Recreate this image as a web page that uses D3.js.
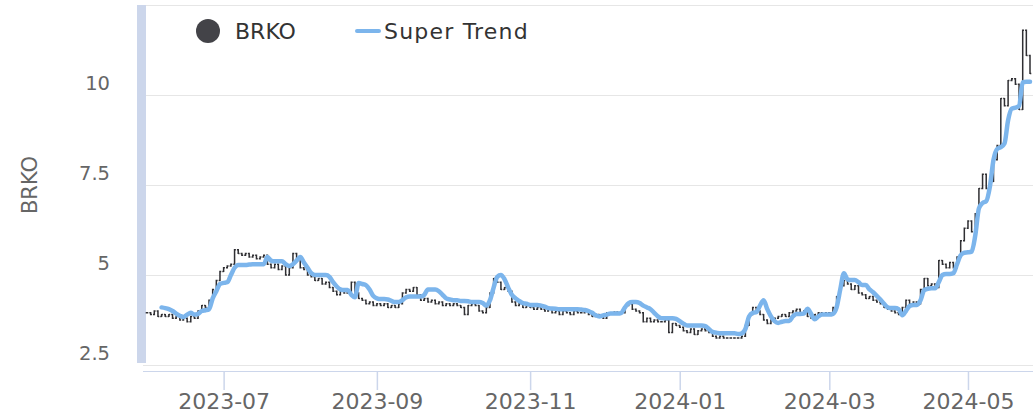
<!DOCTYPE html>
<html>
<head>
<meta charset="utf-8">
<script src="https://cdn.jsdelivr.net/npm/d3@7"></script>
<style>
  html, body { margin: 0; padding: 0; background: #fff; }
  svg { display: block; font-family: "DejaVu Sans", sans-serif; }
</style>
</head>
<body>
<svg id="chart" width="1033" height="416"></svg>
<script>
// trading months shown on the chart
const months = ["2023-06", "2023-07", "2023-08", "2023-09", "2023-10", "2023-11",
                "2023-12", "2024-01", "2024-02", "2024-03", "2024-04", "2024-05"];

// daily closing prices, one inner array per month
const closes = [
    [3.95, 3.9, 4.0, 3.85, 3.9, 3.85, 3.9, 3.8, 3.85, 3.75, 3.8, 3.7, 3.85, 3.8, 4.0, 4.15, 4.1, 4.3, 4.6, 4.85, 5.1],
    [5.2, 5.25, 5.3, 5.7, 5.6, 5.55, 5.6, 5.5, 5.55, 5.45, 5.5, 5.55, 5.3, 5.2, 5.3, 5.15, 5.25, 5.0, 5.2],
    [5.6, 5.45, 5.2, 5.15, 5.0, 4.95, 4.85, 4.9, 4.75, 4.8, 4.65, 4.55, 4.45, 4.6, 4.5, 4.55, 4.8, 4.5, 4.35, 4.3, 4.2, 4.25, 4.15],
    [4.2, 4.15, 4.2, 4.1, 4.15, 4.1, 4.2, 4.5, 4.6, 4.55, 4.65, 4.45, 4.3, 4.35, 4.25, 4.3, 4.2, 4.25, 4.15, 4.2],
    [4.15, 4.2, 4.15, 4.1, 3.9, 4.15, 4.2, 4.15, 4.0, 3.95, 4.1, 4.5, 4.9, 4.8, 4.6, 4.65, 4.55, 4.25, 4.15, 4.2, 4.1, 4.15],
    [4.1, 4.05, 4.1, 4.05, 4.0, 4.05, 3.95, 4.0, 3.9, 4.0, 3.95, 3.9, 4.0, 3.95, 3.95, 4.0, 3.9, 3.85, 3.9, 3.85, 3.8],
    [3.95, 3.95, 3.97, 3.95, 3.95, 4.15, 4.2, 4.05, 4.0, 3.95, 3.7, 3.8, 3.7, 3.75, 3.7, 3.7, 3.75, 3.4, 3.65, 3.6],
    [3.55, 3.45, 3.4, 3.5, 3.35, 3.45, 3.5, 3.45, 3.4, 3.3, 3.25, 3.3, 3.25, 3.25, 3.25, 3.25, 3.25, 3.3, 3.6, 3.9, 4.1],
    [4.0, 3.9, 3.75, 3.65, 3.75, 3.8, 3.85, 3.9, 3.85, 3.95, 4.0, 4.05, 3.95, 4.0, 3.85, 3.8, 3.9, 3.95, 3.9, 3.95],
    [3.95, 4.1, 4.4, 4.7, 4.85, 4.75, 4.6, 4.7, 4.5, 4.45, 4.35, 4.4, 4.3, 4.25, 4.2, 4.1, 4.05, 4.0, 3.95],
    [3.9, 4.1, 4.3, 4.2, 4.25, 4.2, 4.6, 4.9, 4.7, 4.75, 4.65, 5.4, 5.3, 5.2, 5.35, 5.2, 5.5, 5.95, 6.3],
    [6.5, 6.2, 6.7, 7.4, 7.8, 7.4, 7.6, 8.2, 8.6, 9.9, 9.7, 10.4, 10.45, 10.3, 9.6, 11.8, 11.1, 10.6]
];

// super trend indicator, same shape as closes
const superTrend = [
    [null, null, null, null, 4.1, 4.08, 4.05, 4.0, 3.93, 3.87, 3.83, 3.9, 3.95, 3.9, 3.92, 4.0, 4.02, 4.05, 4.35, 4.55, 4.75],
    [4.78, 4.8, 5.0, 5.2, 5.28, 5.28, 5.28, 5.29, 5.3, 5.3, 5.3, 5.3, 5.5, 5.4, 5.38, 5.38, 5.38, 5.3, 5.25],
    [5.3, 5.4, 5.5, 5.35, 5.2, 5.05, 5.0, 5.0, 5.0, 5.0, 4.95, 4.8, 4.68, 4.6, 4.58, 4.58, 4.45, 4.38, 4.78, 4.75, 4.72, 4.6, 4.42],
    [4.35, 4.33, 4.33, 4.32, 4.28, 4.25, 4.25, 4.3, 4.38, 4.4, 4.4, 4.4, 4.4, 4.45, 4.6, 4.6, 4.6, 4.55, 4.45, 4.35],
    [4.32, 4.3, 4.3, 4.28, 4.28, 4.27, 4.25, 4.25, 4.25, 4.22, 4.15, 4.3, 4.65, 4.95, 5.0, 4.88, 4.65, 4.45, 4.35, 4.28, 4.22, 4.2],
    [4.17, 4.17, 4.17, 4.15, 4.12, 4.08, 4.07, 4.06, 4.05, 4.05, 4.05, 4.05, 4.05, 4.05, 4.04, 4.03, 4.0, 3.95, 3.88, 3.85, 3.88],
    [3.9, 3.93, 3.93, 3.93, 3.95, 4.1, 4.22, 4.25, 4.25, 4.22, 4.15, 4.1, 4.05, 3.95, 3.85, 3.8, 3.8, 3.8, 3.8, 3.78],
    [3.72, 3.65, 3.6, 3.6, 3.6, 3.6, 3.6, 3.58, 3.5, 3.42, 3.4, 3.38, 3.38, 3.38, 3.38, 3.38, 3.36, 3.38, 3.5, 3.85, 3.95],
    [3.97, 4.15, 4.3, 4.05, 3.85, 3.72, 3.67, 3.7, 3.72, 3.72, 3.85, 3.92, 3.92, 3.93, 4.06, 3.92, 3.77, 3.85, 3.9, 3.9],
    [3.9, 3.92, 4.1, 4.6, 5.05, 4.88, 4.86, 4.86, 4.8, 4.72, 4.72, 4.6, 4.52, 4.42, 4.32, 4.2, 4.1, 4.08, 4.08],
    [4.05, 3.88, 4.0, 4.14, 4.17, 4.17, 4.3, 4.58, 4.62, 4.63, 4.63, 4.8, 5.0, 5.03, 5.03, 5.05, 5.3, 5.55, 5.62],
    [5.63, 5.65, 6.1, 6.85, 7.0, 7.05, 7.45, 8.2, 8.5, 8.55, 8.65, 9.3, 9.62, 9.65, 9.7, 10.35, 10.37, 10.37]
];

const tickMonths = ["2023-07", "2023-09", "2023-11", "2024-01", "2024-03", "2024-05"];
const yTicks = [2.5, 5, 7.5, 10];
const seriesNames = ["BRKO", "Super Trend"];

const width = 1033, height = 416;
const margin = { top: 5, right: 3, bottom: 51, left: 147 };

const svg = d3.select("#chart");
svg.append("rect").attr("width", width).attr("height", height).attr("fill", "#fff");

// flatten months into daily bars
const bars = [];
months.forEach((month, mi) => {
    closes[mi].forEach((close, j) => {
        bars.push({ month: month, close: close, trend: superTrend[mi][j] });
    });
});
bars.forEach((d, i) => d.open = i > 0 ? bars[i - 1].close : d.close);

const x = d3.scaleLinear()
    .domain([0, bars.length - 1])
    .range([margin.left, width - margin.right]);

const y = d3.scaleLinear()
    .domain([2.5, 12.5])
    .range([height - margin.bottom, margin.top]);

// grid lines
svg.selectAll(".grid")
    .data(d3.range(2.5, 12.6, 2.5))
    .join("line")
    .attr("class", "grid")
    .attr("x1", 143)
    .attr("x2", width)
    .attr("y1", d => Math.round(y(d)) + 0.5)
    .attr("y2", d => Math.round(y(d)) + 0.5)
    .attr("stroke", "#e6e6e6")
    .attr("stroke-width", 1);

// left band
svg.append("rect")
    .attr("x", 137)
    .attr("y", margin.top)
    .attr("width", 9)
    .attr("height", y(2.5) - margin.top - 2)
    .attr("fill", "#ccd6eb");

// y axis labels
const yAxis = svg.append("g")
    .attr("transform", "translate(110,0)")
    .call(d3.axisLeft(y).tickValues(yTicks).tickSize(0).tickPadding(0).tickFormat(d3.format("")));
yAxis.select(".domain").remove();
yAxis.selectAll("text")
    .attr("font-family", "DejaVu Sans, sans-serif")
    .attr("font-size", 19.5)
    .attr("fill", "#666")
    .attr("dy", "-0.27em")
    .attr("text-anchor", "end");

svg.append("text")
    .attr("transform", `translate(37, ${(y(2.5) + y(12.5)) / 2}) rotate(-90)`)
    .attr("text-anchor", "middle")
    .attr("font-size", 21)
    .attr("fill", "#666")
    .text(seriesNames[0]);

// x axis
const tickIndex = tickMonths.map(m => bars.findIndex(d => d.month === m));
const xAxis = svg.append("g")
    .attr("transform", `translate(0, ${height - margin.bottom + 6})`)
    .call(d3.axisBottom(x).tickValues(tickIndex).tickSize(19).tickPadding(3)
        .tickFormat(i => bars[i].month));
xAxis.select(".domain").remove();
xAxis.append("line")
    .attr("x1", 143).attr("x2", width)
    .attr("y1", 0.5).attr("y2", 0.5)
    .attr("stroke", "#ccd6eb");
xAxis.selectAll(".tick line").attr("stroke", "#ccd6eb").attr("stroke-width", 1.5);
xAxis.selectAll(".tick text")
    .attr("font-family", "DejaVu Sans, sans-serif")
    .attr("font-size", 22)
    .attr("fill", "#666");

// OHLC bars
const tick = 1.3;
const ohlc = svg.append("g").attr("stroke", "#2f2f33").attr("stroke-width", 1.5).attr("fill", "none");
ohlc.selectAll("path")
    .data(bars)
    .join("path")
    .attr("d", (d, i) => {
        const cx = x(i);
        const hi = y(Math.max(d.open, d.close)), lo = y(Math.min(d.open, d.close));
        return `M${cx},${hi - 0.7}V${lo + 0.7}M${cx - tick},${y(d.open)}H${cx}M${cx},${y(d.close)}H${cx + tick}`;
    });

// super trend line
const trendLine = d3.line()
    .defined(d => d.trend !== null)
    .x((d, i) => x(i))
    .y(d => y(d.trend))
    .curve(d3.curveMonotoneX);

svg.append("path")
    .datum(bars)
    .attr("d", trendLine)
    .attr("fill", "none")
    .attr("stroke", "#7cb5ec")
    .attr("stroke-width", 4.5)
    .attr("stroke-linejoin", "round")
    .attr("stroke-linecap", "round");

// legend
const legend = svg.append("g").attr("font-size", 22).attr("fill", "#333");
legend.append("circle").attr("cx", 208).attr("cy", 31).attr("r", 12).attr("fill", "#434348");
legend.append("text").attr("x", 235).attr("y", 39).text(seriesNames[0]);
legend.append("line")
    .attr("x1", 357).attr("x2", 379).attr("y1", 31).attr("y2", 31)
    .attr("stroke", "#7cb5ec").attr("stroke-width", 4).attr("stroke-linecap", "round");
legend.append("text").attr("x", 384).attr("y", 39).attr("letter-spacing", 1.2).text(seriesNames[1]);
</script>
</body>
</html>
